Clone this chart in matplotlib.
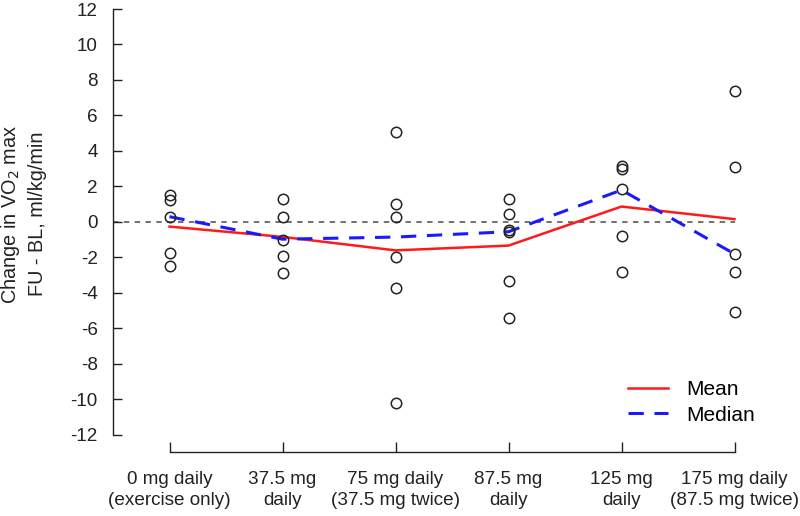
import matplotlib
matplotlib.use("Agg")
import matplotlib.pyplot as plt

plt.rcParams['font.family'] = ['Liberation Sans', 'DejaVu Sans']

categories = ["0 mg daily\n(exercise only)", "37.5 mg\ndaily", "75 mg daily\n(37.5 mg twice)",
              "87.5 mg\ndaily", "125 mg\ndaily", "175 mg daily\n(87.5 mg twice)"]
group_values = [
    [1.5, 1.25, 0.3, -1.75, -2.5],
    [1.3, 0.3, -1.0, -1.9, -2.9],
    [5.05, 1.0, 0.3, -2.0, -3.7, -10.2],
    [1.3, 0.45, -0.45, -0.55, -3.3, -5.4],
    [3.15, 3.0, 1.85, -0.8, -2.8],
    [7.4, 3.1, -1.8, -2.8, -5.1],
]
means = [-0.26, -0.84, -1.6, -1.33, 0.87, 0.16]
medians = [0.3, -0.97, -0.85, -0.55, 1.8, -1.8]
yticks = list(range(-12, 13, 2))

W, H = 800, 516
fig = plt.figure(figsize=(W / 100, H / 100), dpi=100)
left_px, right_px = 113, 791
y_top_val, y_top_px = 12.0, 9
y_bot_val, y_bot_px = -12.96, 452
ppu = (y_bot_px - y_top_px) / (y_top_val - y_bot_val)
top_px = y_top_px - (12.96 - 12.0) * ppu
ax = fig.add_axes([left_px / W, 1 - y_bot_px / H, (right_px - left_px) / W, (y_bot_px - top_px) / H])
ax.set_xlim(0.5, 6.5)
ax.set_ylim(-12.96, 12.96)

xs = list(range(1, len(categories) + 1))
ax.plot([0.5, 6], [0, 0], ls=(0, (3, 3)), color='#666666', lw=1.3, zorder=1)
for x, vals in zip(xs, group_values):
    ax.plot([x] * len(vals), vals, 'o', mfc='none', mec='#222222', ms=7.5, mew=1.1, zorder=3)
ax.plot(xs, means, color='#ff1a1a', lw=1.8, label='Mean', zorder=2)
ax.plot(xs, medians, color='#1a1aff', lw=2.2, ls=(0, (5, 3.5)), label='Median', zorder=2)

for s in ['top', 'right']:
    ax.spines[s].set_visible(False)
ax.spines['left'].set_bounds(-12, 12)
ax.spines['bottom'].set_bounds(1, 6)
for s in ['left', 'bottom']:
    ax.spines[s].set_color('#222222')
    ax.spines[s].set_linewidth(1.0)

ax.set_yticks(yticks)
ax.set_yticklabels([str(t) for t in yticks])
ax.set_xticks(xs)
ax.set_xticklabels(categories, linespacing=1.3)
ax.tick_params(axis='y', direction='in', length=6.5, width=1.0, pad=11, labelsize=13.6, colors='#222222')
ax.tick_params(axis='x', direction='in', length=7, width=1.0, pad=14, labelsize=13.6, colors='#222222')

fig.text(11 / W, 1 - 214 / H, "Change in VO$_2$ max", rotation=90, ha='center', va='center', fontsize=14.3, color='#222222')
fig.text(38 / W, 1 - 214 / H, "FU - BL, ml/kg/min", rotation=90, ha='center', va='center', fontsize=14.3, color='#222222')

leg = ax.legend(loc='upper left', bbox_to_anchor=(628 / W, 1 - 380 / H), bbox_transform=fig.transFigure,
                frameon=False, fontsize=15, borderpad=0, borderaxespad=0,
                handlelength=1.9, handletextpad=0.9, labelspacing=0.32)

fig.savefig("out.png", dpi=100)
